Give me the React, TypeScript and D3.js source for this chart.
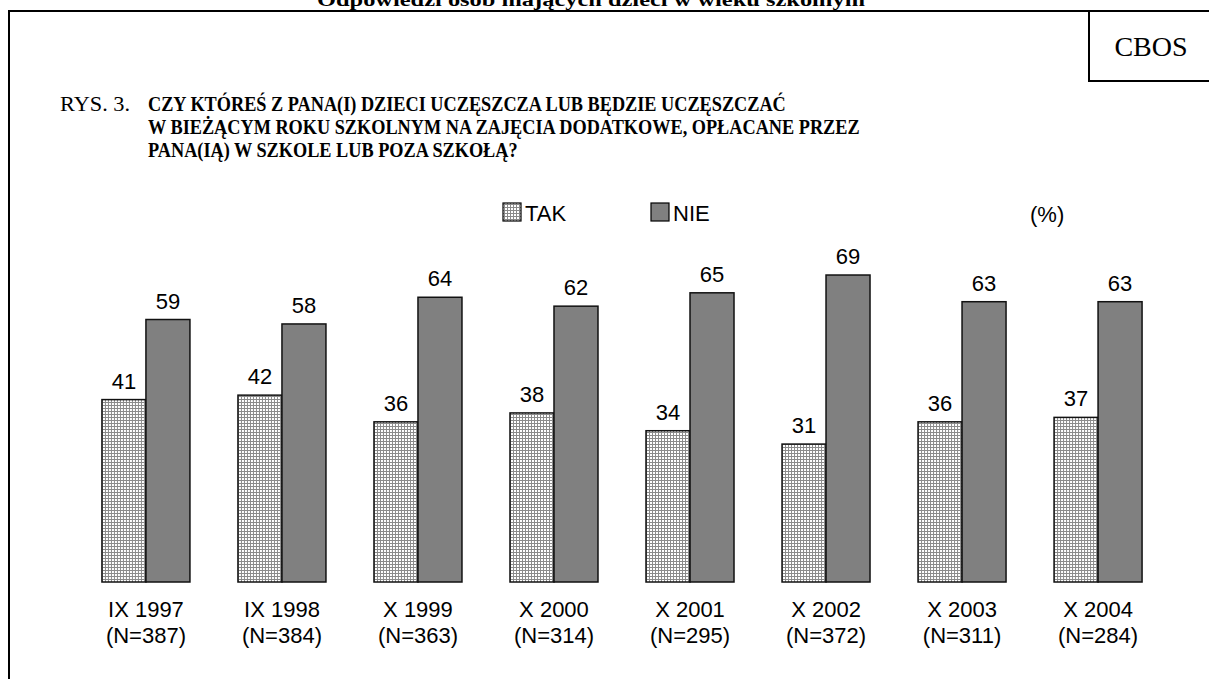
import React from "react";
import * as d3 from "d3";

const categories = ["IX 1997", "IX 1998", "X 1999", "X 2000", "X 2001", "X 2002", "X 2003", "X 2004"];
const sampleSizes = ["(N=387)", "(N=384)", "(N=363)", "(N=314)", "(N=295)", "(N=372)", "(N=311)", "(N=284)"];
const takValues = [41, 42, 36, 38, 34, 31, 36, 37];
const nieValues = [59, 58, 64, 62, 65, 69, 63, 63];

const SERIES = [
  { key: "tak", label: "TAK", values: takValues, fill: "url(#dots)" },
  { key: "nie", label: "NIE", values: nieValues, fill: "#808080" },
];

const titleLines = [
  "CZY KTÓREŚ Z PANA(I) DZIECI UCZĘSZCZA LUB BĘDZIE UCZĘSZCZAĆ",
  "W BIEŻĄCYM ROKU SZKOLNYM NA ZAJĘCIA DODATKOWE, OPŁACANE PRZEZ",
  "PANA(IĄ) W SZKOLE LUB POZA SZKOŁĄ?",
];

const W = 1209;
const H = 679;
const baseY = 582;
const serif = "'Liberation Serif', 'Times New Roman', serif";
const sans = "'Liberation Sans', Arial, sans-serif";

export default function App() {
  const x = d3.scaleBand<string>().domain(categories).range([78, 1166]).paddingInner(0.353).paddingOuter(0.176);
  const inner = d3.scaleBand<string>().domain(SERIES.map((s) => s.key)).range([0, x.bandwidth()]);
  const y = d3.scaleLinear().domain([0, 100]).range([baseY, baseY - 444.9]);

  return (
    <svg width={W} height={H} style={{ position: "absolute", left: 0, top: 0, background: "#fff" }}>
      <defs>
        <pattern id="dots" width={3} height={3} patternUnits="userSpaceOnUse">
          <rect width={3} height={3} fill="#fff" />
          <rect width={3} height={1} fill="#8a8a8a" />
          <rect width={1} height={3} fill="#8a8a8a" />
        </pattern>
      </defs>

      {/* heading cut off by the page top */}
      <text x={591} y={6} textAnchor="middle" fontFamily={serif} fontWeight="bold" fontSize={19}
        textLength={548} lengthAdjust="spacingAndGlyphs">
        Odpowiedzi osób mających dzieci w wieku szkolnym
      </text>

      {/* frame */}
      <path d={`M9,${H} V11 H${W}`} fill="none" stroke="#000" strokeWidth={2} />
      <path d="M1089,11 V81 H1209" fill="none" stroke="#000" strokeWidth={2} />
      <text x={1151} y={56} textAnchor="middle" fontFamily={serif} fontSize={28}>CBOS</text>

      {/* title */}
      <text x={60} y={111} fontFamily={serif} fontSize={21} textLength={70} lengthAdjust="spacingAndGlyphs">RYS. 3.</text>
      <g transform="translate(148,0) scale(0.83,1)">
        {titleLines.map((t, i) => (
          <text key={i} x={0} y={111 + i * 23} fontFamily={serif} fontWeight="bold" fontSize={22}>
            {t}
          </text>
        ))}
      </g>

      {/* legend */}
      {SERIES.map((s, i) => {
        const lx = 503 + i * 148;
        return (
          <g key={s.key}>
            <rect x={lx} y={203} width={18} height={18} fill={s.fill} stroke="#000" strokeWidth={1.2} />
            <text x={lx + 22} y={221} fontFamily={sans} fontSize={22}>{s.label}</text>
          </g>
        );
      })}
      <text x={1030} y={222} fontFamily={sans} fontSize={22}>(%)</text>

      {/* bars */}
      {categories.map((c, ci) => (
        <g key={c} transform={`translate(${x(c)},0)`}>
          {SERIES.map((s) => {
            const v = s.values[ci];
            const bx = inner(s.key) ?? 0;
            return (
              <g key={s.key}>
                <rect x={bx} y={y(v)} width={inner.bandwidth()} height={baseY - y(v)}
                  fill={s.fill} stroke="#111" strokeWidth={1.5} />
                <text x={bx + inner.bandwidth() / 2} y={y(v) - 11} textAnchor="middle"
                  fontFamily={sans} fontSize={22}>{v}</text>
              </g>
            );
          })}
          <text x={x.bandwidth() / 2} y={617} textAnchor="middle" fontFamily={sans} fontSize={22}>{c}</text>
          <text x={x.bandwidth() / 2} y={643} textAnchor="middle" fontFamily={sans} fontSize={22}>{sampleSizes[ci]}</text>
        </g>
      ))}
    </svg>
  );
}
